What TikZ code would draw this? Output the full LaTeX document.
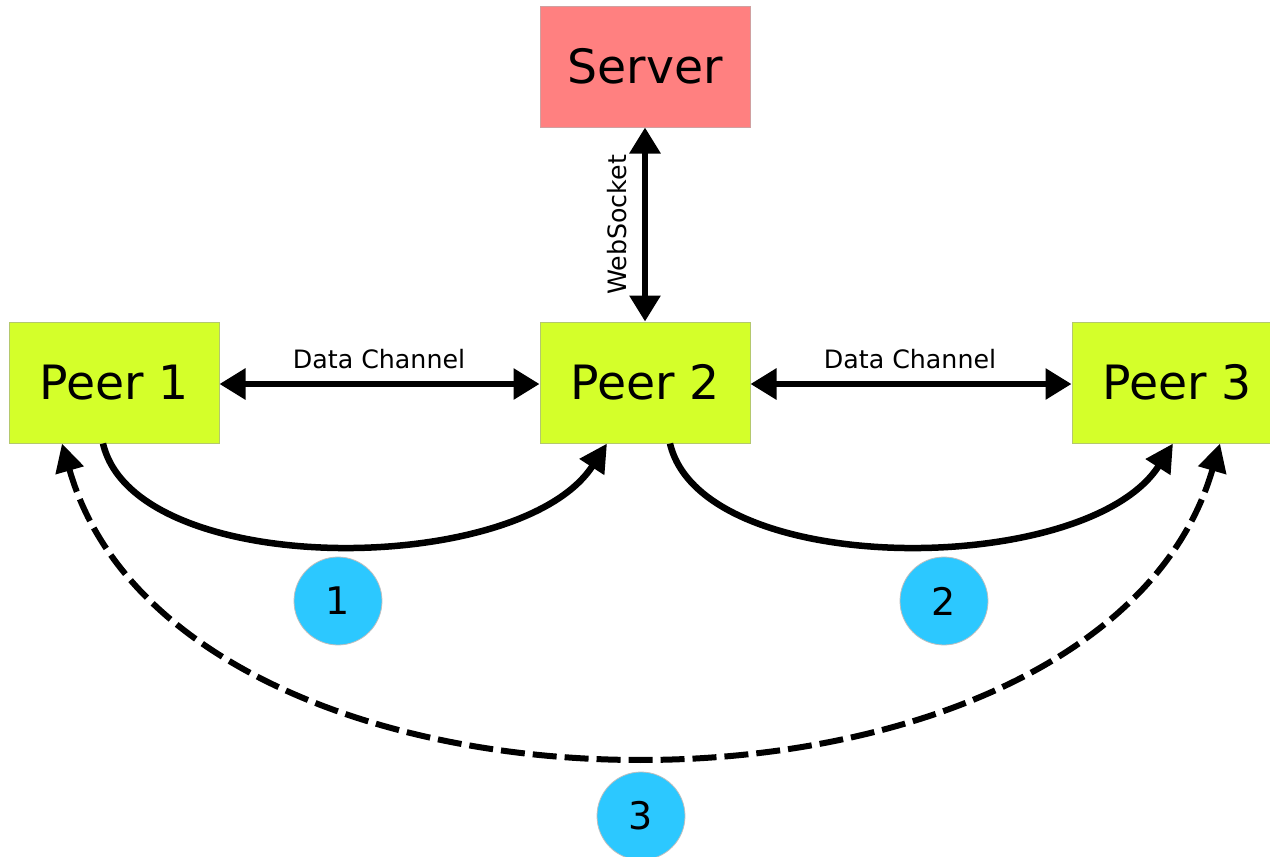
\documentclass[tikz,border=0pt]{standalone}
\usepackage{fontspec}
\setmainfont{DejaVu Sans}
\usetikzlibrary{arrows.meta}
\definecolor{serverred}{HTML}{FF8080}
\definecolor{peergreen}{HTML}{D4FF2A}
\definecolor{peeredge}{HTML}{B4C86E}
\definecolor{serveredge}{HTML}{D0A0A0}
\definecolor{stepblue}{HTML}{2CC8FF}
\tikzset{
  box/.style={draw, line width=1pt, minimum width=210pt, minimum height=121pt,
    inner sep=0pt, font=\fontsize{47.3}{52}\selectfont},
  peerbox/.style={box, fill=peergreen, draw=peeredge},
  serverbox/.style={box, fill=serverred, draw=serveredge},
  link/.style={line width=6pt, {Triangle[length=26pt,width=30pt]}-{Triangle[length=26pt,width=30pt]}},
  flow/.style={line width=6.5pt, -{Triangle[length=28pt,width=28pt]}},
  lbl/.style={font=\fontsize{25.3}{28}\selectfont, inner sep=0pt},
  badge/.style={circle, fill=stepblue, draw=black!25, line width=0.8pt,
    minimum size=88pt, inner sep=0pt, font=\fontsize{38}{40}\selectfont}
}
\begin{document}
\begin{tikzpicture}[x=1pt,y=-1pt]
\useasboundingbox (0,0) rectangle (1270,857);
% boxes
\node[serverbox] (srv) at (645,66.5) {Server};
\node[peerbox] (p1) at (114,382.5) {Peer 1};
\node[peerbox] (p2) at (645,382.5) {Peer 2};
\node[peerbox] (p3) at (1177,382.5) {Peer 3};
% signalling link
\draw[link] (srv.south) -- (p2.north);
\node[lbl, rotate=90] (ws) at (617,225) {WebSocket};
% data channels
\draw[link] ([yshift=-1.5pt]p1.east) -- ([yshift=-1.5pt]p2.west);
\draw[link] ([yshift=-1.5pt]p2.east) -- ([yshift=-1.5pt]p3.west);
\node[lbl] (dc1) at (379,359) {Data Channel};
\node[lbl] (dc2) at (910,359) {Data Channel};
% hand-over steps
\draw[flow] ([xshift=-11pt]p1.south) .. controls (135,580) and (520,578) .. ([xshift=-38pt]p2.south);
\draw[flow] ([xshift=25pt]p2.south) .. controls (702,580) and (1087,578) .. ([xshift=-4pt]p3.south);
\draw[line width=6pt, dash pattern=on 24pt off 8pt,
  {Triangle[length=28pt,width=28pt]}-{Triangle[length=28pt,width=28pt]}]
  ([xshift=-52pt]p1.south) .. controls (180,857) and (1100,857) .. ([xshift=43pt]p3.south);
% step markers
\node[badge] (s1) at (338,601) {1};
\node[badge] (s2) at (944,601) {2};
\node[badge] (s3) at (641,816) {3};
\end{tikzpicture}
\end{document}
